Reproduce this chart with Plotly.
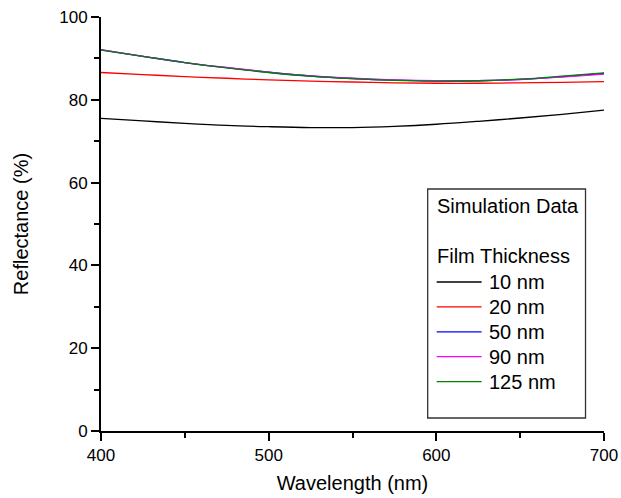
import plotly.graph_objects as go

wavelength = [400, 425, 450, 475, 500, 525, 550, 575, 600, 625, 650, 675, 700]
r_10nm = [75.5, 74.9, 74.3, 73.8, 73.5, 73.3, 73.3, 73.6, 74.1, 74.8, 75.6, 76.5, 77.5]
r_20nm = [86.6, 86.1, 85.6, 85.2, 84.8, 84.5, 84.3, 84.1, 84.0, 84.0, 84.1, 84.2, 84.4]
r_50nm = [92.05, 90.5, 89.0, 87.75, 86.65, 85.75, 85.15, 84.75, 84.55, 84.6, 84.95, 85.6, 86.35]
r_90nm = [92.1, 90.5, 89.0, 87.8, 86.7, 85.8, 85.2, 84.8, 84.6, 84.6, 84.9, 85.5, 86.2]
r_125nm = [92.0, 90.5, 89.0, 87.7, 86.6, 85.7, 85.1, 84.7, 84.5, 84.6, 85.0, 85.7, 86.5]

series_names = ["10 nm", "20 nm", "50 nm", "90 nm", "125 nm"]
series_values = [r_10nm, r_20nm, r_50nm, r_90nm, r_125nm]
series_colors = ["#000000", "#FF0000", "#0000FF", "#FF00FF", "#008000"]

legend_header = "Simulation Data"
legend_title = "Film Thickness"

x_ticks = [400, 500, 600, 700]
y_ticks = [0, 20, 40, 60, 80, 100]

FONT = "Liberation Sans, Arial, sans-serif"

fig = go.Figure()
for name, vals, col in zip(series_names, series_values, series_colors):
    fig.add_trace(go.Scatter(x=wavelength, y=vals, name=name, mode="lines",
                             line=dict(color=col, width=1.3, shape="spline")))

L, R, T, B = 101, 16.5, 17, 67
W, H = 621, 498
pw = W - L - R
ph = H - T - B

def px_x(px):
    return (px - L) / pw

def px_y(py):
    return (H - B - py) / ph

# Legend box, drawn in paper coordinates
fig.add_shape(type="rect", xref="paper", yref="paper",
              x0=px_x(428), x1=px_x(586), y0=px_y(418), y1=px_y(189),
              line=dict(color="#333333", width=1.3), fillcolor="rgba(0,0,0,0)", layer="above")

annots = []
annots.append(dict(text=legend_header, x=px_x(435), y=px_y(206)))
annots.append(dict(text=legend_title, x=px_x(435), y=px_y(256)))
row_y0, row_step = 282, 24.9
for i, (name, col) in enumerate(zip(series_names, series_colors)):
    yy = row_y0 + i * row_step
    fig.add_shape(type="line", xref="paper", yref="paper",
                  x0=px_x(437), x1=px_x(482), y0=px_y(yy), y1=px_y(yy),
                  line=dict(color=col, width=1.3))
    annots.append(dict(text=name, x=px_x(487), y=px_y(yy)))

for a in annots:
    fig.add_annotation(xref="paper", yref="paper", xanchor="left", yanchor="middle",
                       showarrow=False, font=dict(family=FONT, size=20, color="black"), **a)

fig.update_layout(
    width=W, height=H,
    margin=dict(l=L, r=R, t=T, b=B, pad=0, autoexpand=False),
    paper_bgcolor="white", plot_bgcolor="white",
    font=dict(family=FONT, size=17, color="black"),
    showlegend=False,
    xaxis=dict(
        range=[400, 700], tickvals=x_ticks, ticktext=[str(v) for v in x_ticks],
        showgrid=False, zeroline=False, showline=True, linecolor="black", linewidth=2,
        ticks="outside", ticklen=8, tickwidth=1.5, tickcolor="black", automargin=False,
        minor=dict(tickvals=[450, 550, 650], ticks="outside", ticklen=5, tickwidth=1.5, tickcolor="black"),
        tickfont=dict(size=17), title=dict(text="Wavelength (nm)", font=dict(size=20), standoff=12),
    ),
    yaxis=dict(
        range=[0, 100], tickvals=y_ticks, ticktext=[str(v) for v in y_ticks],
        showgrid=False, zeroline=False, showline=True, linecolor="black", linewidth=2,
        ticks="outside", ticklen=8, tickwidth=1.5, tickcolor="black", automargin=False,
        minor=dict(tickvals=[10, 30, 50, 70, 90], ticks="outside", ticklen=5, tickwidth=1.5, tickcolor="black"),
        tickfont=dict(size=17), title=dict(text="Reflectance (%)", font=dict(size=20), standoff=25),
    ),
)

fig.write_html("out.html")
